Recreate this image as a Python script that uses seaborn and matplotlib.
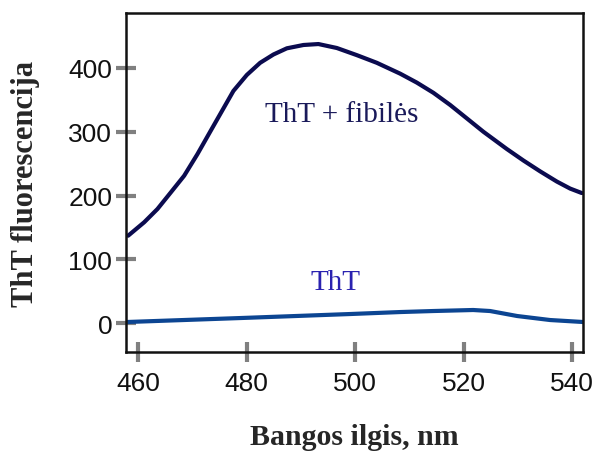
import numpy as np
import pandas as pd
import matplotlib
matplotlib.use("Agg")
import matplotlib.pyplot as plt
import seaborn as sns

# Data
wl_fib = [458.17, 461.12, 463.57, 466.04, 468.49, 470.94, 473.41, 475.49, 477.57,
          480.04, 482.49, 484.94, 487.41, 490.47, 493.23, 496.62, 500.31, 503.99,
          508.29, 511.36, 514.42, 517.50, 520.57, 523.63, 527.94, 531.00, 534.08,
          537.16, 539.61, 541.76]
thT_fib = [137.2, 158.2, 179.0, 205.1, 231.1, 265.0, 302.0, 333.0, 364.0,
           389.0, 408.0, 421.0, 430.7, 435.9, 437.4, 431.2, 420.0, 408.0,
           391.0, 377.0, 361.0, 342.0, 321.0, 300.0, 273.0, 255.0, 238.0,
           222.0, 211.0, 204.0]

wl_tht = [457.98, 478.80, 499.07, 508.29, 514.37, 521.74, 524.87, 529.84, 535.92, 542.0]
thT_only = [2.0, 8.2, 14.5, 17.6, 19.2, 20.8, 19.2, 11.4, 5.1, 2.0]

xticks = [460, 480, 500, 520, 540]
yticks = [0, 100, 200, 300, 400]

df_fib = pd.DataFrame({"wl": wl_fib, "val": thT_fib})
df_tht = pd.DataFrame({"wl": wl_tht, "val": thT_only})

sns.set_style("white")
plt.rcParams['font.family'] = ['Liberation Sans', 'DejaVu Sans']

fig = plt.figure(figsize=(5.95, 4.52), dpi=100)
ax = fig.add_axes([0.212, 0.219, 0.768, 0.750])

sns.lineplot(data=df_fib, x="wl", y="val", ax=ax, color="#0b0b4f", linewidth=3.0)
sns.lineplot(data=df_tht, x="wl", y="val", ax=ax, color="#0c4592", linewidth=3.0)
for ln in ax.lines:
    ln.set_solid_joinstyle("round")
    ln.set_solid_capstyle("round")

ax.set_xlim(457.8, 542)
ax.set_ylim(-45, 486)
ax.set_xticks(xticks)
ax.set_yticks(yticks)
ax.tick_params(axis="both", which="major", bottom=True, left=True, direction="inout",
               length=14, width=3, color="#808080",
               labelsize=19, labelcolor="#111111")
ax.tick_params(axis="x", pad=7)
ax.tick_params(axis="y", pad=3)
for s in ax.spines.values():
    s.set_color("#111111")
    s.set_linewidth(1.8)

ax.set_xlabel("Bangos ilgis, nm", family=["Liberation Serif"], fontweight="bold",
              fontsize=21.5, labelpad=20)
ax.set_ylabel("ThT fluorescencija", family=["Liberation Serif"], fontweight="bold",
              fontsize=22, labelpad=20)

ax.text(497.5, 328, "ThT + fibilės", family=["Liberation Serif"], fontsize=21,
        color="#1a1a5a", ha="center", va="center")
ax.text(496.3, 65, "ThT", family=["Liberation Serif"], fontsize=21,
        color="#2a22b0", ha="center", va="center")

fig.savefig("out.png", dpi=100)
